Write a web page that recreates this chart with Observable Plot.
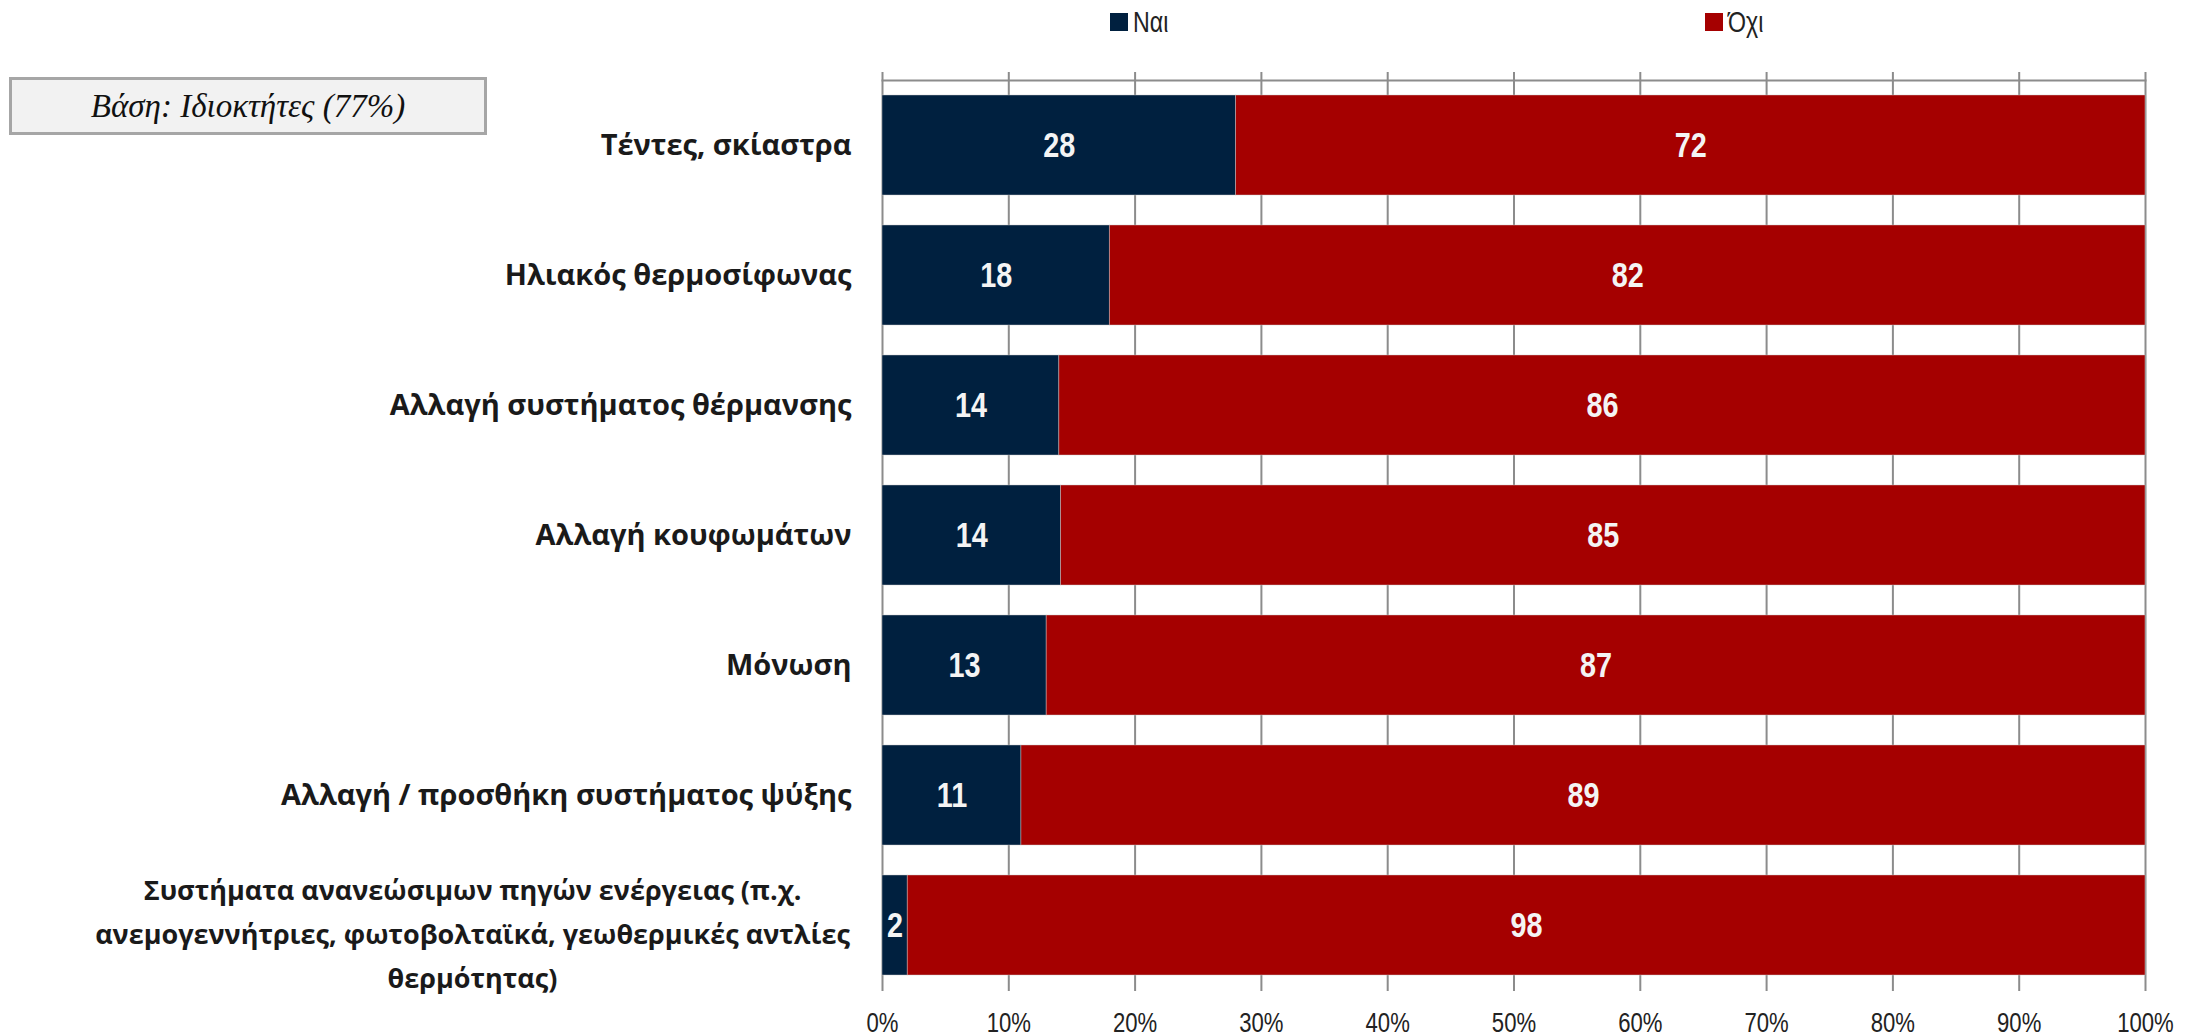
<!DOCTYPE html>
<html><head><meta charset="utf-8">
<script src="https://cdn.jsdelivr.net/npm/d3@7"></script>
<script src="https://cdn.jsdelivr.net/npm/@observablehq/plot@0.6"></script>
<style>
body{margin:0;background:#fff;}
#wrap{position:relative;width:2187px;height:1036px;overflow:hidden;}
.legend{position:absolute;top:6px;height:32px;font-family:"Liberation Sans Narrow","Arial Narrow","Liberation Sans",sans-serif;font-size:29px;color:#222;display:flex;align-items:center;}
.legend span{display:inline-block;transform:scaleX(0.8);transform-origin:left center;}
.sw{width:18px;height:18px;margin-right:5px;}
#base{position:absolute;left:9px;top:77px;width:472px;height:52px;background:#f2f2f2;border:3px solid #a6a6a6;font-family:"Liberation Serif","DejaVu Serif",serif;font-style:italic;font-size:33px;display:flex;align-items:center;justify-content:center;color:#111;}
#chart{position:absolute;left:0;top:0;}
</style></head>
<body><div id="wrap"><div id="chart"></div></div>
<script>
const categories = [
  "Τέντες, σκίαστρα",
  "Ηλιακός θερμοσίφωνας",
  "Αλλαγή συστήματος θέρμανσης",
  "Αλλαγή κουφωμάτων",
  "Μόνωση",
  "Αλλαγή / προσθήκη συστήματος ψύξης",
  "Συστήματα ανανεώσιμων πηγών ενέργειας (π.χ.\nανεμογεννήτριες, φωτοβολταϊκά, γεωθερμικές αντλίες\nθερμότητας)"
];
const seriesNames = ["Ναι", "Όχι"];
const naiValues = [28, 18, 14, 14, 13, 11, 2];
const oxiValues = [72, 82, 86, 85, 87, 89, 98];
const tickValues = [0, 0.1, 0.2, 0.3, 0.4, 0.5, 0.6, 0.7, 0.8, 0.9, 1];
const tickLabels = ["0%", "10%", "20%", "30%", "40%", "50%", "60%", "70%", "80%", "90%", "100%"];
const seriesColors = ["#00203f", "#a50000"];
const baseText = "Βάση: Ιδιοκτήτες (77%)";

const data = categories.flatMap((c, i) => [
  {cat: c, series: seriesNames[0], value: naiValues[i]},
  {cat: c, series: seriesNames[1], value: oxiValues[i]}
]);

const narrow = '"Liberation Sans Narrow","Arial Narrow","Liberation Sans",sans-serif';
const labelFont = '"Open Sans","DejaVu Sans",sans-serif';

const chart = Plot.plot({
  width: 2187,
  height: 1036,
  marginLeft: 882,
  marginRight: 42,
  marginTop: 80,
  marginBottom: 45,
  style: {background: "transparent", fontFamily: narrow},
  x: {domain: [0, 1], axis: null},
  y: {domain: categories, paddingInner: 0.23, paddingOuter: 0.115, axis: null},
  color: {domain: seriesNames, range: seriesColors},
  marks: [
    Plot.gridX(tickValues, {stroke: "#8c8c8c", strokeOpacity: 1, strokeWidth: 2, insetTop: -8}),
    Plot.axisX(tickValues, {anchor: "bottom", tickSize: 0, tickPadding: 21, fontSize: 27, fill: "#222", label: null,
      tickFormat: d => tickLabels[tickValues.indexOf(d)]}),
    Plot.frame({anchor: "top", stroke: "#8c8c8c", strokeWidth: 2}),
    Plot.barX(data, Plot.stackX({x: "value", y: "cat", fill: "series", offset: "normalize", order: seriesNames,
      stroke: "#c8c8c8", strokeWidth: 0.75, strokeOpacity: 0.6})),
    Plot.text(data, Plot.stackX({x: "value", y: "cat", z: "series", offset: "normalize", order: seriesNames,
      text: d => String(d.value), fill: "#f4f4f4", fontSize: 36, fontWeight: "bold", fontFamily: narrow})),
    Plot.text(categories.slice(0, 6), {y: d => d, frameAnchor: "left", textAnchor: "end", dx: -31,
      fontSize: 29, fontWeight: "bold", fontFamily: labelFont, fill: "#1a1a1a"}),
    Plot.text(categories.slice(6), {y: d => d, frameAnchor: "left", textAnchor: "middle", dx: -410, dy: 4,
      lineHeight: 1.63, fontSize: 27, fontWeight: "bold", fontFamily: labelFont, fill: "#1a1a1a"})
  ]
});
document.getElementById("chart").appendChild(chart);

// condense narrow-font texts horizontally (no narrow font installed)
function condense(el, s) {
  const b = el.getBBox();
  const cx = b.x + b.width / 2;
  const old = el.getAttribute("transform") || "";
  el.setAttribute("transform", `${old} translate(${cx},0) scale(${s},1) translate(${-cx},0)`);
}
const textGroups = chart.querySelectorAll('g[aria-label="text"]');
if (textGroups.length) textGroups[0].querySelectorAll("text").forEach(t => condense(t, 0.8));
chart.querySelectorAll('g[aria-label="x-axis tick label"] text').forEach(t => condense(t, 0.82));

const wrap = document.getElementById("wrap");
const legendPos = [1110, 1705];
seriesNames.forEach((s, i) => {
  const item = document.createElement("div");
  item.className = "legend";
  item.style.left = legendPos[i] + "px";
  const sw = document.createElement("div");
  sw.className = "sw";
  sw.style.background = seriesColors[i];
  const t = document.createElement("span");
  t.textContent = s;
  item.appendChild(sw);
  item.appendChild(t);
  wrap.appendChild(item);
});
const base = document.createElement("div");
base.id = "base";
base.textContent = baseText;
wrap.appendChild(base);
</script>
</body></html>
